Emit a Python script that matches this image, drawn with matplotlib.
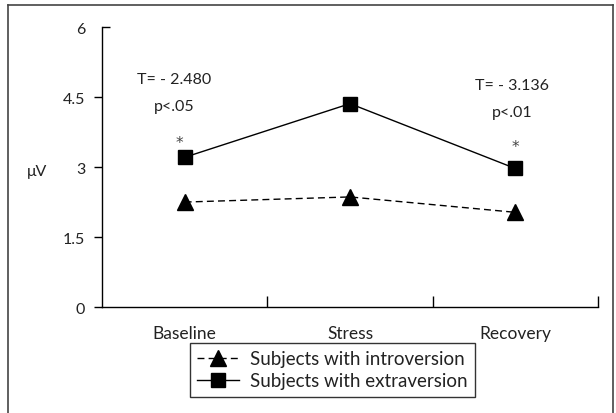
import matplotlib
matplotlib.use("Agg")
import matplotlib.pyplot as plt
from matplotlib.lines import Line2D

plt.rcParams['font.family'] = ['Lato', 'DejaVu Sans']

# data
phases = ['Baseline', 'Stress', 'Recovery']
introversion = [2.25, 2.36, 2.03]
extraversion = [3.21, 4.36, 2.97]
y_ticks = [0, 1.5, 3, 4.5]
y_labels = ['0', '1.5', '3', '4.5']
t_values = ['T= - 2.480', '', 'T= - 3.136']
p_values = ['p<.05', '', 'p<.01']

fig = plt.figure(figsize=(6.16, 4.14), dpi=100)
ax = fig.add_axes([0.1656, 0.256, 0.8052, 0.676])

x = list(range(len(phases)))
ax.plot(x, introversion, color='black', lw=1, ls=(0, (5, 3)), marker='^', ms=11,
        label='Subjects with introversion')
ax.plot(x, extraversion, color='black', lw=1, ls='-', marker='s', ms=10,
        label='Subjects with extraversion')

# significance notes above baseline and recovery
note_x = {0: -0.066, 2: -0.02}
note_y = {0: (4.885, 4.31, 3.64), 2: (4.76, 4.18, 3.56)}
for i in x:
    if t_values[i]:
        ty, py, sy = note_y[i]
        ax.text(i + note_x[i], ty, t_values[i], ha='center', va='center', fontsize=11.5, color='#222')
        ax.text(i + note_x[i], py, p_values[i], ha='center', va='center', fontsize=11.5, color='#222')
        ax.text(i - 0.03 if i == 0 else i, sy - 0.12, '*', ha='center', va='center', fontsize=11,
                color='#444', family='DejaVu Sans')

ax.set_xlim(-0.5, 2.5)
ax.set_ylim(0, 6)
ax.spines['top'].set_visible(False)
ax.spines['right'].set_visible(False)
for s in ['left', 'bottom']:
    ax.spines[s].set_linewidth(1)

ax.set_xticks(x)
ax.set_xticklabels(phases, fontsize=12.5, color='#222')
ax.set_xticks([0.5, 1.5, 2.5], minor=True)
ax.tick_params(axis='x', which='major', length=0, pad=13)
ax.tick_params(axis='x', which='minor', direction='in', length=8, width=1)

ax.set_yticks(y_ticks)
ax.set_yticklabels(y_labels, fontsize=11.5, color='#222')
ax.set_yticks([6], minor=True)
ax.set_yticklabels(['6'], minor=True, fontsize=11.5, color='#222')
ax.tick_params(axis='y', which='major', direction='out', length=6, width=1, pad=6)
ax.tick_params(axis='y', which='minor', direction='in', length=6, width=1, pad=12)

fig.text(37 / 616, 1 - 172 / 414, 'μV', fontsize=11.5, ha='center', va='center', color='#222')

leg = ax.legend(loc='upper center', bbox_to_anchor=(332.5 / 616, 1 - 344 / 414),
                bbox_transform=fig.transFigure, frameon=True, fancybox=False,
                fontsize=13.5, handlelength=2.2, numpoints=1, borderpad=0.4,
                labelspacing=0.25, handletextpad=0.6, borderaxespad=0)
leg.get_frame().set_edgecolor('black')
leg.get_frame().set_linewidth(1)
for t in leg.get_texts():
    t.set_color('#222')

# outer frame, open at the bottom
fl = dict(color='#444', lw=1.2, transform=fig.transFigure)
fig.lines.append(Line2D([8 / 616, 8 / 616], [0, 1 - 6 / 414], **fl))
fig.lines.append(Line2D([8 / 616, 613 / 616], [1 - 6 / 414, 1 - 6 / 414], **fl))
fig.lines.append(Line2D([613 / 616, 613 / 616], [0, 1 - 6 / 414], **fl))

fig.savefig('out.png', dpi=100)
